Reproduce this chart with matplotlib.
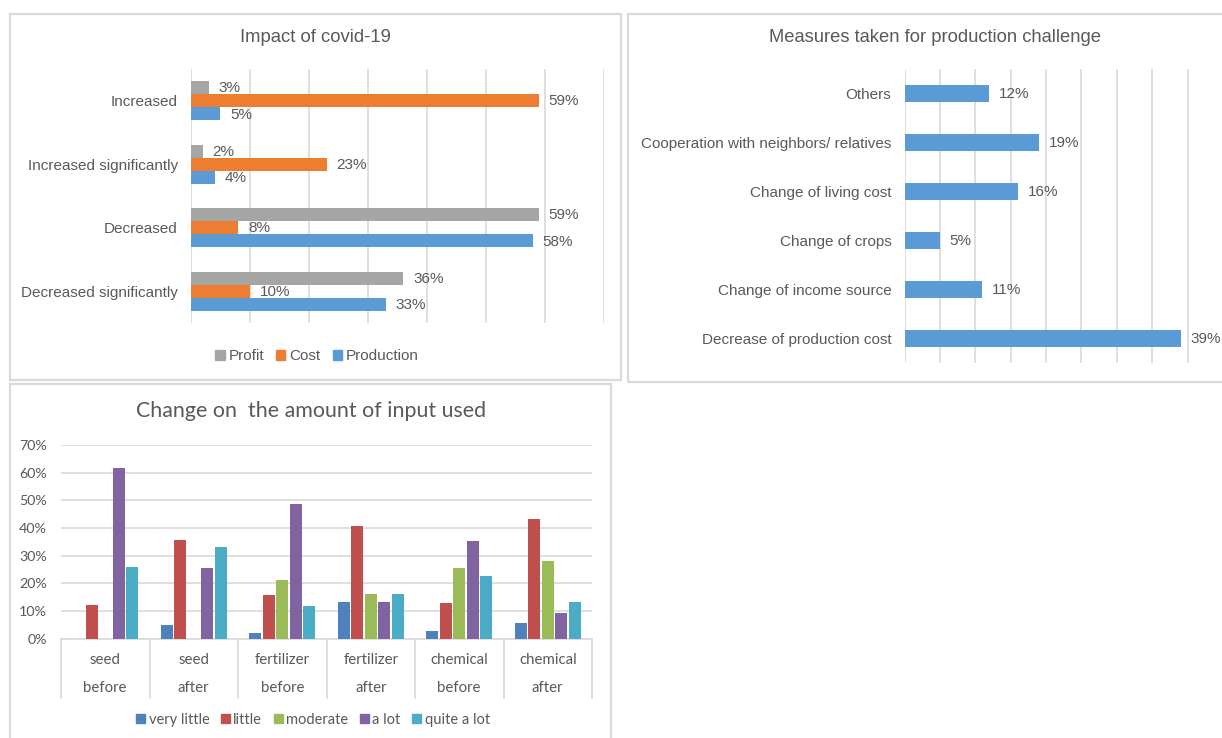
import matplotlib
matplotlib.use("Agg")
import matplotlib.pyplot as plt
from matplotlib.patches import Rectangle, Patch
from matplotlib.ticker import PercentFormatter, MultipleLocator
import numpy as np

# ---- data -------------------------------------------------------------
impact_categories = ["Increased", "Increased significantly", "Decreased", "Decreased significantly"]
impact_profit = [3, 2, 59, 36]
impact_cost = [59, 23, 8, 10]
impact_production = [5, 4, 58, 33]

measure_categories = ["Others", "Cooperation with neighbors/ relatives", "Change of living cost",
                      "Change of crops", "Change of income source", "Decrease of production cost"]
measure_values = [12, 19, 16, 5, 11, 39]

input_categories = ["seed\nbefore", "seed\nafter", "fertilizer\nbefore", "fertilizer\nafter",
                    "chemical\nbefore", "chemical\nafter"]
input_series = ["very little", "little", "moderate", "a lot", "quite a lot"]
input_very_little = [0.0, 4.9, 2.0, 13.1, 2.8, 5.5]
input_little = [12.2, 35.7, 15.7, 40.8, 12.9, 43.3]
input_moderate = [0.0, 0.0, 21.2, 16.3, 25.5, 28.2]
input_a_lot = [61.8, 25.5, 48.8, 13.1, 35.4, 9.3]
input_quite_a_lot = [25.8, 33.1, 11.7, 16.3, 22.7, 13.1]

# ---- styling ----------------------------------------------------------
W, H = 1222, 738
TXT = "#595959"
GRID = "#D9D9D9"
ARIAL = "Liberation Sans"
CALIBRI = "Lato"

C_PROFIT, C_COST, C_PROD = "#A5A5A5", "#ED7D31", "#5B9BD5"
INPUT_COLORS = ["#4F81BD", "#C0504D", "#9BBB59", "#8064A2", "#4BACC6"]

fig = plt.figure(figsize=(W / 100, H / 100), dpi=100)
fig.patch.set_facecolor("white")


def fx(x):
    return x / W


def fy(y):
    return 1 - y / H


def axes_px(x0, y0, x1, y1):
    return fig.add_axes([fx(x0), fy(y1), fx(x1) - fx(x0), fy(y0) - fy(y1)])


def panel_frame(x0, y0, x1, y1):
    fig.patches.append(Rectangle((fx(x0), fy(y1)), fx(x1) - fx(x0), fy(y0) - fy(y1),
                                 transform=fig.transFigure, fill=False,
                                 edgecolor=GRID, linewidth=1.6, zorder=0))


# panel outlines
panel_frame(9.5, 13.5, 621, 380)
panel_frame(627.5, 13.5, 1240, 382)
panel_frame(9.5, 384, 611, 760)

# ---- panel 1: impact of covid-19 --------------------------------------
ax1 = axes_px(191, 69, 603.7, 323)
n1 = len(impact_categories)
ypos = np.arange(n1)[::-1]
bh, off = 0.205, 0.208
series1 = [("Profit", impact_profit, C_PROFIT, off),
           ("Cost", impact_cost, C_COST, 0.0),
           ("Production", impact_production, C_PROD, -off)]
for name, vals, col, dy in series1:
    v = np.array(vals) / 100
    bars = ax1.barh(ypos + dy, v, height=bh, color=col, label=name, zorder=3)
    for b, val in zip(bars, vals):
        ax1.annotate(f"{val}%", (b.get_width(), b.get_y() + b.get_height() / 2),
                     xytext=(7, -0.5), textcoords="offset points", va="center", ha="left",
                     fontsize=11, color=TXT, family=ARIAL)
ax1.set_xlim(0, 0.7)
ax1.set_ylim(-0.5, n1 - 0.5)
ax1.xaxis.set_major_locator(MultipleLocator(0.1))
ax1.grid(axis="x", color=GRID, linewidth=1.2, zorder=0)
ax1.set_xticklabels([])
ax1.tick_params(axis="both", length=0)
ax1.set_yticks(ypos)
ax1.set_yticklabels(impact_categories, fontsize=11, color=TXT, family=ARIAL)
ax1.tick_params(axis="y", pad=9.5)
for s in ax1.spines.values():
    s.set_visible(False)
fig.text(fx(315), fy(37.5), "Impact of covid-19", ha="center", va="center",
         fontsize=13.3, color=TXT, family=ARIAL)
leg1 = fig.legend(handles=[Patch(color=c, label=n) for n, _, c, _ in series1],
                  loc="center", bbox_to_anchor=(fx(317), fy(356.5)), ncol=3, frameon=False,
                  handlelength=0.6, handleheight=0.6, handletextpad=0.25, columnspacing=0.8,
                  prop={"family": ARIAL, "size": 11})
for t in leg1.get_texts():
    t.set_color(TXT)

# ---- panel 2: measures taken ------------------------------------------
ax2 = axes_px(904.5, 69, 1223, 363)
n2 = len(measure_categories)
ypos2 = np.arange(n2)[::-1]
bars2 = ax2.barh(ypos2, np.array(measure_values) / 100, height=0.35, color=C_PROD, zorder=3)
for b, val in zip(bars2, measure_values):
    ax2.annotate(f"{val}%", (b.get_width(), b.get_y() + b.get_height() / 2),
                 xytext=(7, -0.5), textcoords="offset points", va="center", ha="left",
                 fontsize=11, color=TXT, family=ARIAL, annotation_clip=False)
ax2.set_xlim(0, 0.45)
ax2.set_ylim(-0.5, n2 - 0.5)
ax2.xaxis.set_major_locator(MultipleLocator(0.05))
ax2.grid(axis="x", color=GRID, linewidth=1.2, zorder=0)
ax2.set_xticklabels([])
ax2.tick_params(axis="both", length=0)
ax2.set_yticks(ypos2)
ax2.set_yticklabels(measure_categories, fontsize=11, color=TXT, family=ARIAL)
ax2.tick_params(axis="y", pad=9.5)
for s in ax2.spines.values():
    s.set_visible(False)
fig.text(fx(935), fy(38), "Measures taken for production challenge", ha="center", va="center",
         fontsize=13.2, color=TXT, family=ARIAL)

# ---- panel 3: change on the amount of input used -----------------------
ax3 = axes_px(61, 445, 592, 638.7)
input_values = [input_very_little, input_little, input_moderate, input_a_lot, input_quite_a_lot]
n3 = len(input_categories)
centers = np.arange(n3) + 0.5
slot, bw = 0.152, 0.135
for i, (name, vals, col) in enumerate(zip(input_series, input_values, INPUT_COLORS)):
    ax3.bar(centers + (i - 2) * slot, np.array(vals) / 100, width=bw, color=col,
            label=name, zorder=3)
ax3.set_xlim(0, n3)
ax3.set_ylim(0, 0.7)
ax3.yaxis.set_major_locator(MultipleLocator(0.1))
ax3.yaxis.set_major_formatter(PercentFormatter(1.0, decimals=0))
ax3.grid(axis="y", color=GRID, linewidth=1.2, zorder=0)
ax3.tick_params(axis="both", length=0)
ax3.tick_params(axis="y", pad=10, labelsize=10.3, labelcolor=TXT)
for lab in ax3.get_yticklabels():
    lab.set_family(CALIBRI)
ax3.set_xticks([])
for s in ["top", "right", "left"]:
    ax3.spines[s].set_visible(False)
ax3.spines["bottom"].set_color(GRID)
ax3.spines["bottom"].set_linewidth(1.2)
# category separators and two-line labels under the axis
span = 638.7 - 445
sep_bottom = -(698 - 638.7) / span
first_line = -(660.5 - 638.7) / span
second_line = -(688.5 - 638.7) / span
for k in range(n3 + 1):
    ax3.plot([k, k], [0, sep_bottom], transform=ax3.get_xaxis_transform(),
             color=GRID, linewidth=1.2, clip_on=False)
for c, lab in zip(centers, input_categories):
    top, bottom = lab.split("\n")
    ax3.text(c, first_line, top, transform=ax3.get_xaxis_transform(), ha="center",
             va="center", fontsize=10.8, color=TXT, family=CALIBRI)
    ax3.text(c, second_line, bottom, transform=ax3.get_xaxis_transform(),
             ha="center", va="center", fontsize=10.8, color=TXT, family=CALIBRI)
fig.text(fx(311), fy(411), "Change on  the amount of input used", ha="center", va="center",
         fontsize=15.4, color=TXT, family=CALIBRI)
leg3 = fig.legend(handles=[Patch(color=c, label=n) for n, c in zip(input_series, INPUT_COLORS)],
                  loc="center", bbox_to_anchor=(fx(313), fy(720)), ncol=5, frameon=False,
                  handlelength=0.6, handleheight=0.6, handletextpad=0.25, columnspacing=0.8,
                  prop={"family": CALIBRI, "size": 10.5})
for t in leg3.get_texts():
    t.set_color(TXT)

fig.savefig("out.png", dpi=100, facecolor="white")
